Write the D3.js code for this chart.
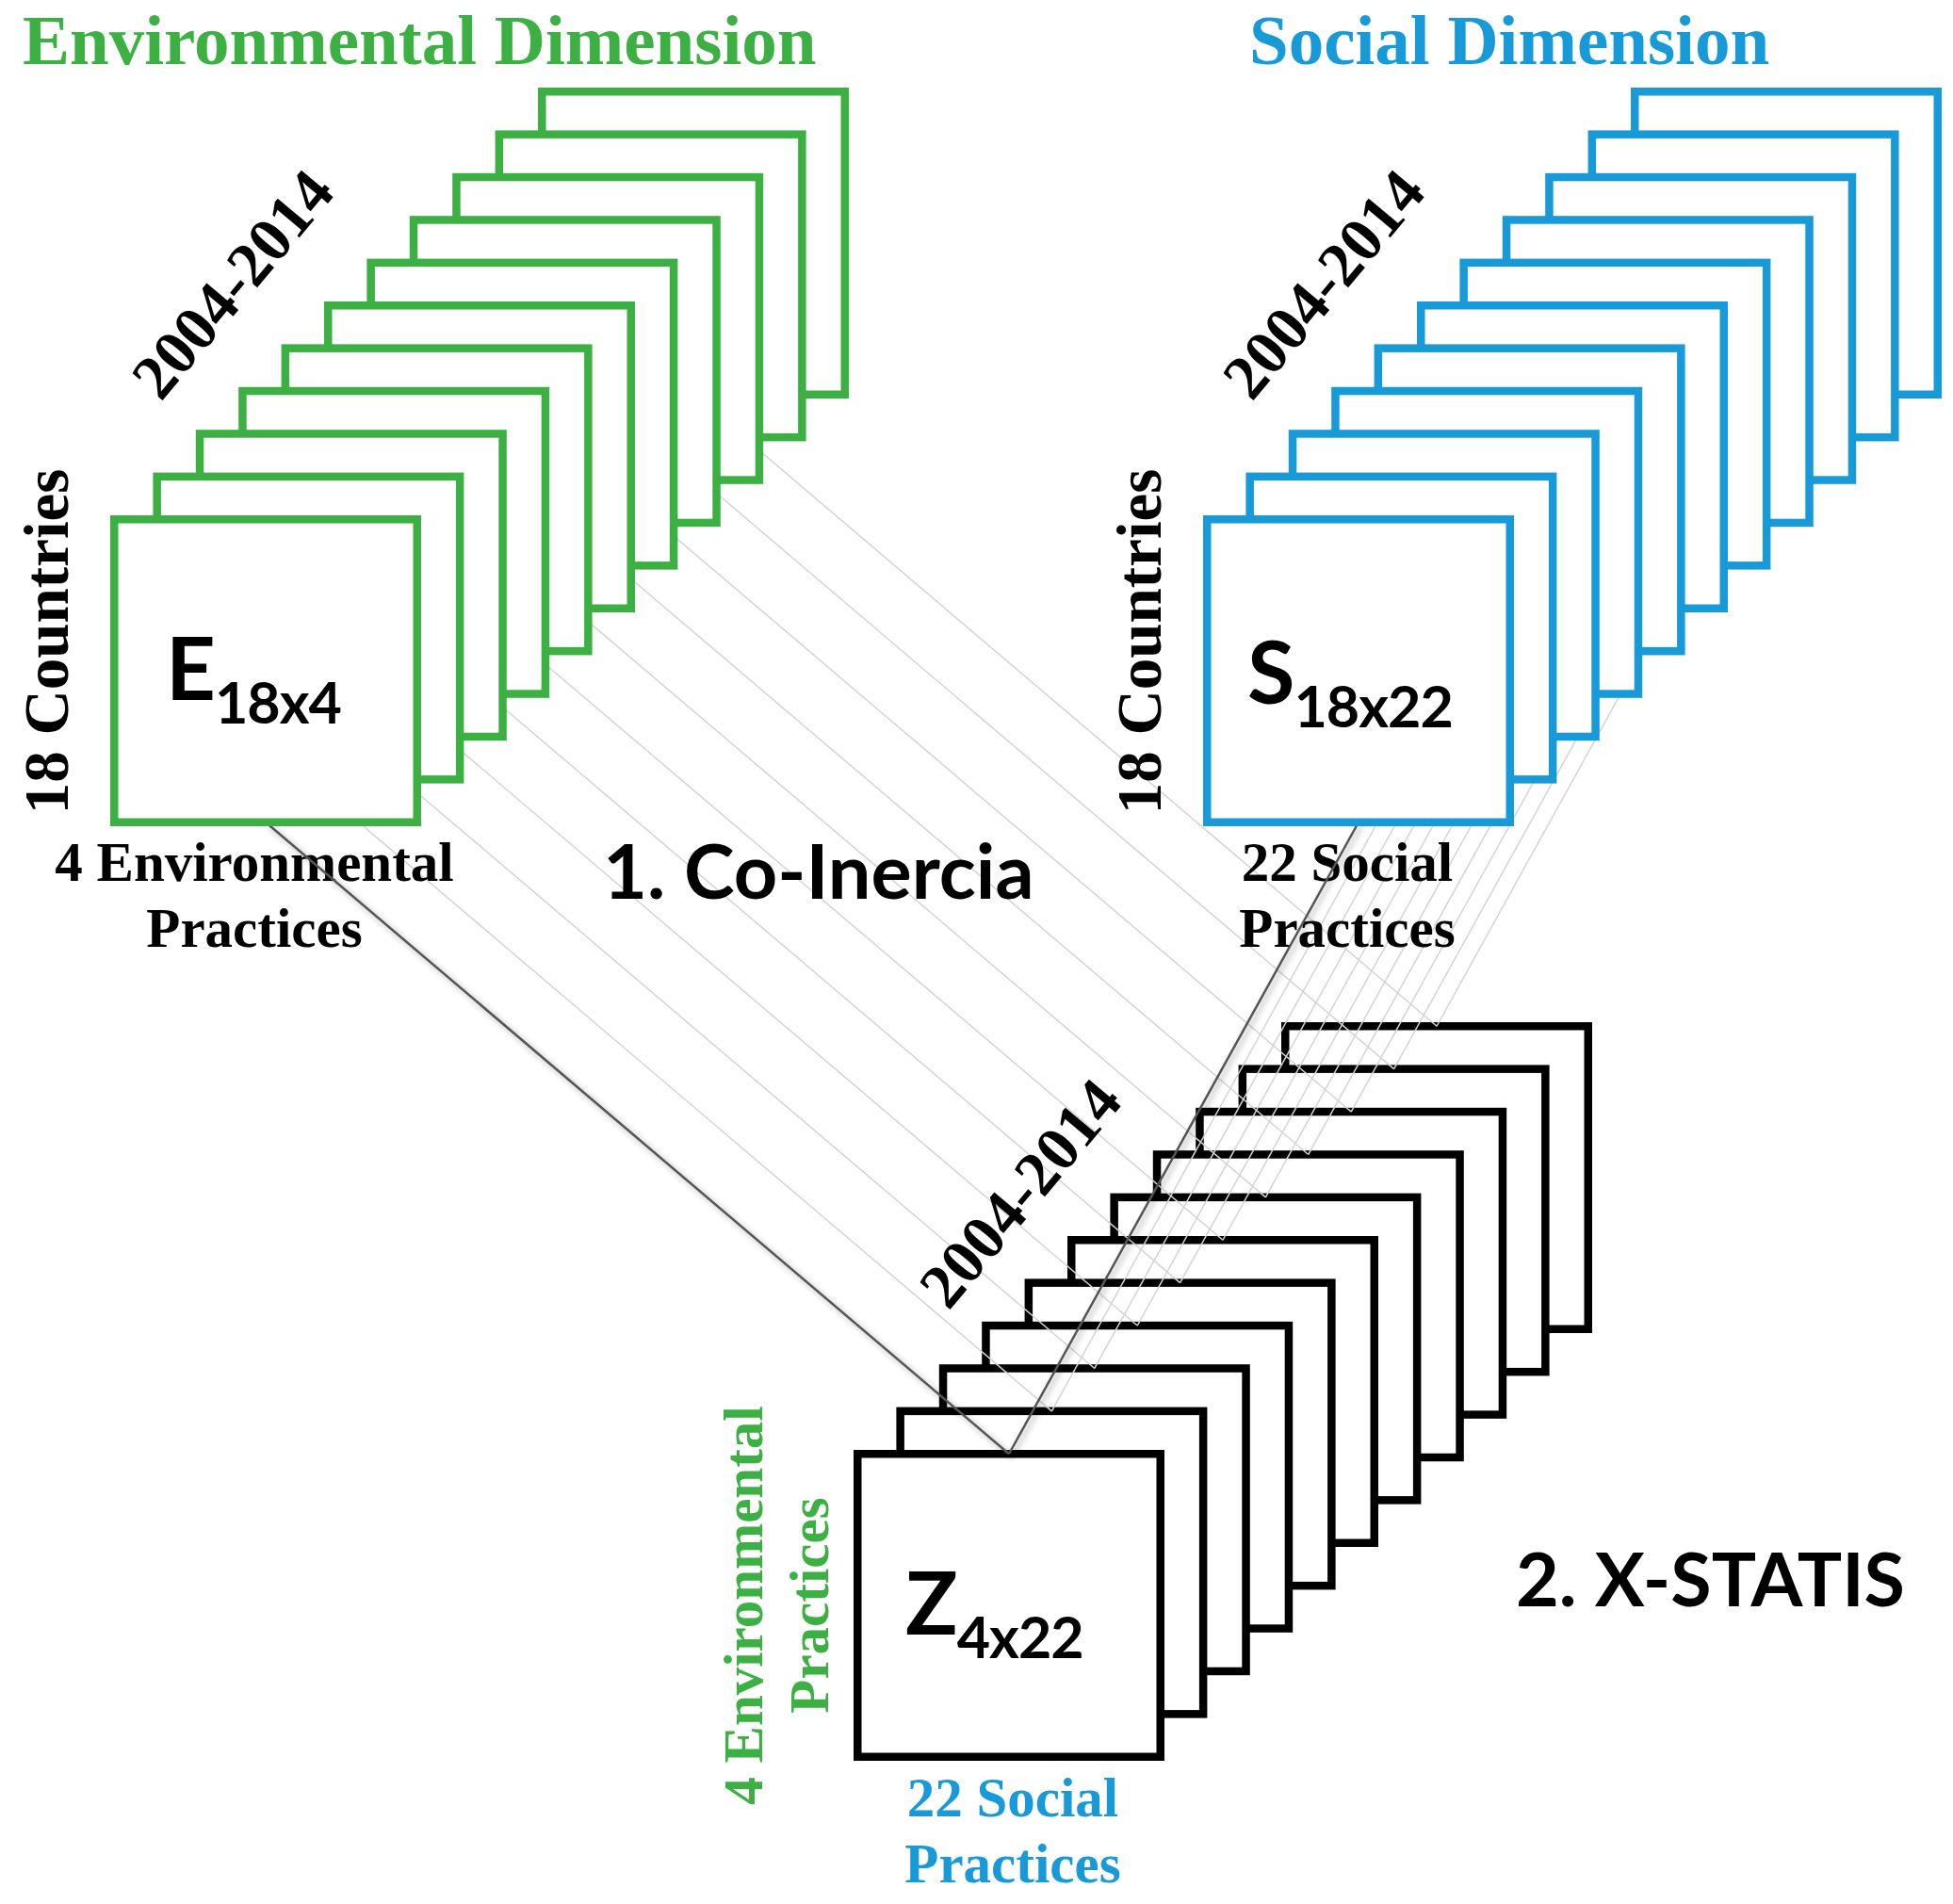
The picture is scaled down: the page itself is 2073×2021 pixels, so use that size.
<!DOCTYPE html>
<html lang="en">
<head>
    <meta charset="UTF-8">
    <title>Co-Inercia and X-STATIS scheme</title>
    <script src="https://cdnjs.cloudflare.com/ajax/libs/d3/7.8.5/d3.min.js"></script>
    <style>
        body { margin: 0; background: #fff; }
        .serif { font-family: "Liberation Serif", "Times New Roman", serif; font-weight: bold; }
        .sans { font-family: Lato, "Open Sans", sans-serif; font-weight: bold; }
    </style>
</head>
<body>
<script type="text/javascript">
    // data
    const years = [2004, 2005, 2006, 2007, 2008, 2009, 2010, 2011, 2012, 2013, 2014];
    const matrixLetters = ["E", "S", "Z"];
    const matrixSizes = ["18x4", "18x22", "4x22"];
    const dimensionTitles = ["Environmental Dimension", "Social Dimension"];
    const rowLabels = ["18 Countries", "18 Countries"];
    const colLabels = [["4 Environmental", "Practices"], ["22 Social", "Practices"]];
    const zRowLabel = ["4 Environmental", "Practices"];
    const zColLabel = ["22 Social", "Practices"];
    const yearLabel = years[0] + "-" + years[years.length - 1];
    const stepLabels = ["1. Co-Inercia", "2. X-STATIS"];

    const width = 2073;
    const height = 2021;
    const green = "#3db043";
    const blue = "#189ad8";
    const colors = [green, blue, "#000"];
    const size = 330;      // outer square size
    const stroke = 8.5;
    // front square outer top-left corner of each stack
    const fronts = [[117, 547], [1277, 547], [906, 1539]];

    const layer = d3.scaleLinear()
        .domain([0, years.length - 1])
        .range([0, 454]);

    const svg = d3.select("body").append("svg")
        .attr("width", width)
        .attr("height", height);

    const defs = svg.append("defs");
    const f = defs.append("filter").attr("id", "shadow")
        .attr("x", "-20%").attr("y", "-20%").attr("width", "140%").attr("height", "140%");
    f.append("feDropShadow").attr("dx", 3).attr("dy", 3).attr("stdDeviation", 3)
        .attr("flood-color", "#000").attr("flood-opacity", 0.35);

    function drawStack(k) {
        const g = svg.append("g");
        const fx = fronts[k][0], fy = fronts[k][1];
        g.selectAll("rect")
            .data(years.slice().reverse())
            .enter()
            .append("rect")
            .attr("x", function(d) { return fx + layer(years.indexOf(d)) + stroke / 2; })
            .attr("y", function(d) { return fy - layer(years.indexOf(d)) + stroke / 2; })
            .attr("width", size - stroke)
            .attr("height", size - stroke)
            .attr("fill", "#fff")
            .attr("stroke", colors[k])
            .attr("stroke-width", stroke);
    }

    function bottomCenter(k, i) {
        return [fronts[k][0] + layer(i) + size / 2, fronts[k][1] - layer(i) + size - stroke / 2];
    }
    function topCenter(k, i) {
        return [fronts[k][0] + layer(i) + size / 2, fronts[k][1] - layer(i) + stroke / 2];
    }

    // Z stack goes underneath the connector lines
    drawStack(2);

    const faint = svg.append("g");
    [0, 1].forEach(function(k) {
        faint.selectAll(".l" + k)
            .data(years.slice(1))
            .enter()
            .append("line")
            .attr("x1", function(d) { return bottomCenter(k, years.indexOf(d))[0]; })
            .attr("y1", function(d) { return bottomCenter(k, years.indexOf(d))[1]; })
            .attr("x2", function(d) { return topCenter(2, years.indexOf(d))[0]; })
            .attr("y2", function(d) { return topCenter(2, years.indexOf(d))[1]; })
            .attr("stroke", "#d4d4d4")
            .attr("stroke-width", 1.5);
    });

    // labels
    svg.append("text").attr("class", "serif")
        .attr("x", 24).attr("y", 68)
        .attr("font-size", 75).attr("fill", green)
        .text(dimensionTitles[0]);
    svg.append("text").attr("class", "serif")
        .attr("x", 1326).attr("y", 68)
        .attr("font-size", 75).attr("fill", blue)
        .text(dimensionTitles[1]);

    [[246, 301], [1404, 301], [1082, 1266]].forEach(function(p) {
        svg.append("text").attr("class", "serif")
            .attr("transform", "translate(" + p[0] + "," + p[1] + ") rotate(-50)")
            .attr("text-anchor", "middle")
            .attr("dy", "0.35em")
            .attr("font-size", 67)
            .text(yearLabel);
    });

    [[72, 681], [1232, 681]].forEach(function(p, k) {
        svg.append("text").attr("class", "serif")
            .attr("transform", "translate(" + p[0] + "," + p[1] + ") rotate(-90)")
            .attr("text-anchor", "middle")
            .attr("font-size", 67)
            .text(rowLabels[k]);
    });

    [270, 1430].forEach(function(cx, k) {
        colLabels[k].forEach(function(t, j) {
            svg.append("text").attr("class", "serif")
                .attr("x", cx).attr("y", 935 + j * 70)
                .attr("text-anchor", "middle")
                .attr("font-size", 59)
                .text(t);
        });
    });

    zRowLabel.forEach(function(t, j) {
        svg.append("text").attr("class", "serif")
            .attr("transform", "translate(" + (809 + j * 70) + ",1704) rotate(-90)")
            .attr("text-anchor", "middle")
            .attr("font-size", 59)
            .attr("fill", green)
            .text(t);
    });
    zColLabel.forEach(function(t, j) {
        svg.append("text").attr("class", "serif")
            .attr("x", 1075).attr("y", 1928 + j * 70)
            .attr("text-anchor", "middle")
            .attr("font-size", 59)
            .attr("fill", blue)
            .text(t);
    });

    svg.append("text").attr("class", "sans")
        .attr("x", 640).attr("y", 954).attr("font-size", 81)
        .text(stepLabels[0]);
    svg.append("text").attr("class", "sans")
        .attr("x", 1609).attr("y", 1705).attr("font-size", 79)
        .text(stepLabels[1]);

    // dark connectors of the front matrices
    [0, 1].forEach(function(k) {
        const a = bottomCenter(k, 0), b = topCenter(2, 0);
        svg.append("line")
            .attr("x1", a[0]).attr("y1", a[1])
            .attr("x2", b[0]).attr("y2", b[1])
            .attr("stroke", "#555")
            .attr("stroke-width", 2.5)
            .attr("filter", "url(#shadow)");
    });

    drawStack(0);
    drawStack(1);

    // matrix names with subscripts
    const letterPos = [[176, 743], [1324, 747], [961, 1735]];
    matrixLetters.forEach(function(m, k) {
        const t = svg.append("text").attr("class", "sans")
            .attr("x", letterPos[k][0]).attr("y", letterPos[k][1]);
        t.append("tspan").attr("font-size", 92).text(m);
        t.append("tspan").attr("font-size", 61).attr("dy", 25).attr("dx", -1)
            .attr("letter-spacing", -1).text(matrixSizes[k]);
    });
</script>
</body>
</html>
